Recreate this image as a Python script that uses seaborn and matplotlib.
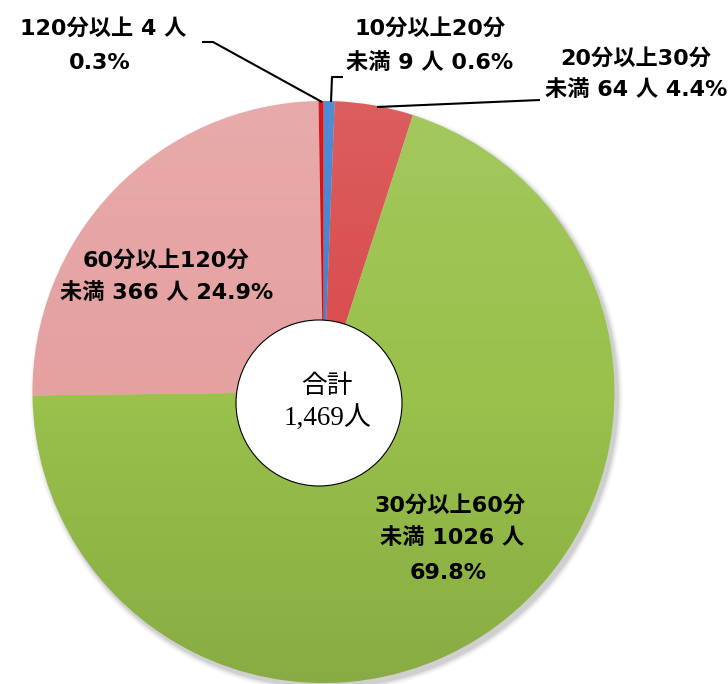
import numpy as np
import matplotlib
matplotlib.use("Agg")
import matplotlib.pyplot as plt
import seaborn as sns
from matplotlib.patches import Circle

# ---- data ----
categories = ["10分以上20分未満", "20分以上30分未満", "30分以上60分未満", "60分以上120分未満", "120分以上"]
counts = [9, 64, 1026, 366, 4]
percents = [0.6, 4.4, 69.8, 24.9, 0.3]
total_label = "合計"
total_value = "1,469人"
colors = ["#3D7FD0", "#D84A4B", "#99C14B", "#E5A0A0", "#D40000"]

label_lines = [
    ["10分以上20分", f"未満 {counts[0]} 人 {percents[0]}%"],
    ["20分以上30分", f"未満 {counts[1]} 人 {percents[1]}%"],
    ["30分以上60分", f"未満 {counts[2]} 人", f"{percents[2]}%"],
    ["60分以上120分", f"未満 {counts[3]} 人 {percents[3]}%"],
    [f"120分以上 {counts[4]} 人", f"{percents[4]}%"],
]

sns.set_theme(style="white")
plt.rcParams['font.family'] = ['Noto Sans CJK JP', 'DejaVu Sans']

W, H = 728, 684
fig = plt.figure(figsize=(W / 100, H / 100), dpi=100)
ax = fig.add_axes([0, 0, 1, 1])

def Y(y):
    return H - y

cx, cy, R = 323.5, 392, 291

# soft shadow
for i, a in enumerate(np.linspace(0.05, 0.01, 6)):
    ax.add_patch(Circle((cx + 3, Y(cy + 4)), R + 1 + i, color="black", alpha=a, zorder=0, lw=0))

wedges, _ = ax.pie(counts, colors=colors, startangle=90, counterclock=False,
                   center=(cx, Y(cy)), radius=R, frame=True,
                   wedgeprops=dict(edgecolor="none", linewidth=0))

# vertical shading gradient clipped to pie
grad = np.linspace(0, 1, 256).reshape(-1, 1)
rgba = np.zeros((256, 1, 4))
rgba[..., :3] = np.where(grad[..., None] < 0.5, 1.0, 0.0)
rgba[..., 3] = np.abs(grad - 0.5)[..., 0:1] * 0.22
img = ax.imshow(rgba, extent=(cx - R, cx + R, Y(cy + R), Y(cy - R)), origin="upper",
                aspect="auto", zorder=2)
clip = Circle((cx, Y(cy)), R, transform=ax.transData)
img.set_clip_path(clip)

ax.set_xlim(0, W)
ax.set_ylim(0, H)
ax.set_aspect("equal")
ax.axis("off")

# center circle
ax.add_patch(Circle((319, Y(403)), 83, facecolor="white", edgecolor="black", lw=0.8, zorder=5))
serif = ['Liberation Serif', 'Noto Sans CJK JP']
ax.text(327, Y(386), total_label, ha="center", va="center", fontsize=18.5, family=serif,
        color="black", zorder=6)
ax.text(328, Y(419), total_value, ha="center", va="center", fontsize=19.5, family=serif,
        color="black", zorder=6)

# labels
lab_family = ['DejaVu Sans', 'Noto Sans CJK JP']
positions = [
    [(430, 28), (430, 63)],
    [(636, 58), (636, 90)],
    [(450, 505), (452, 538), (448, 573)],
    [(166, 260), (167, 293)],
    [(103, 28), (100, 63)],
]
for lines, pos in zip(label_lines, positions):
    for t, (x, y) in zip(lines, pos):
        ax.text(x, Y(y), t, ha="center", va="center", fontsize=16, fontweight="bold",
                family=lab_family, color="black", zorder=7)

# leader lines
lk = dict(color="black", lw=1.5, zorder=4, solid_capstyle="butt")
ax.plot([202, 213, 322], [Y(42), Y(42), Y(102)], **lk)
ax.plot([343, 332, 331], [Y(77), Y(77), Y(102)], **lk)
ax.plot([540, 377], [Y(100), Y(107)], **lk)

fig.savefig("out.png", dpi=100)
